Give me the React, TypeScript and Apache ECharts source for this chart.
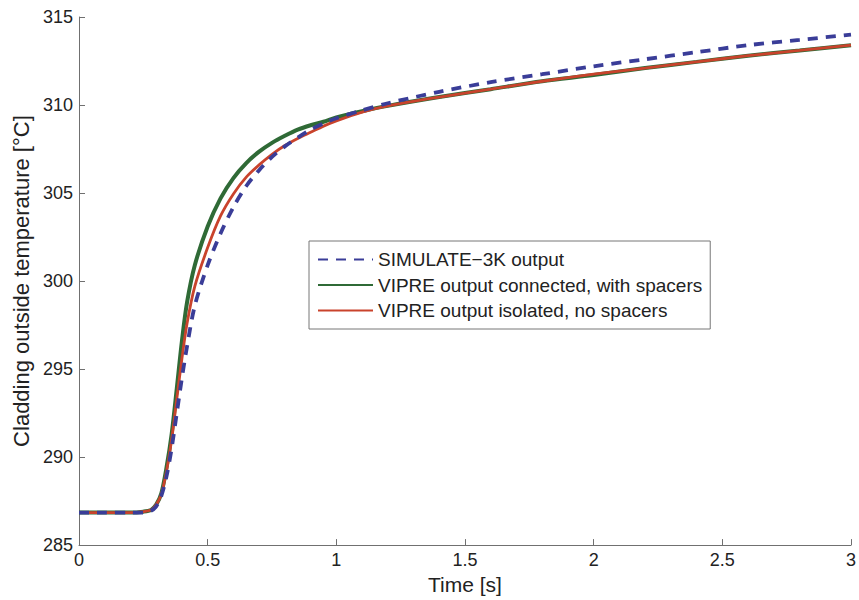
import React, { useEffect, useRef } from "react";
import * as echarts from "echarts";

const time = [0, 0.1, 0.2, 0.25, 0.28, 0.3, 0.32, 0.34, 0.36, 0.38, 0.4, 0.42, 0.45, 0.5, 0.55, 0.6, 0.65, 0.7, 0.75, 0.8, 0.85, 0.9, 0.95, 1.0, 1.1, 1.2, 1.4, 1.6, 1.8, 2.0, 2.2, 2.4, 2.6, 2.8, 3.0];

const simulate3k = [286.85, 286.85, 286.85, 286.85, 286.95, 287.2, 287.8, 288.9, 290.5, 292.5, 294.5, 296.3, 298.6, 300.9, 302.7, 304.2, 305.4, 306.3, 307.05, 307.65, 308.15, 308.6, 308.95, 309.25, 309.7, 310.1, 310.75, 311.3, 311.75, 312.2, 312.6, 313.0, 313.4, 313.7, 314.0];

const vipreConnected = [286.85, 286.85, 286.85, 286.9, 287.0, 287.3, 287.95, 289.4, 291.3, 293.9, 296.6, 298.8, 300.9, 303.1, 304.7, 305.85, 306.7, 307.35, 307.85, 308.25, 308.6, 308.85, 309.05, 309.3, 309.65, 309.95, 310.45, 310.9, 311.35, 311.7, 312.1, 312.45, 312.8, 313.1, 313.4];

const vipreIsolated = [286.85, 286.85, 286.85, 286.9, 287.0, 287.3, 287.9, 289.2, 291.0, 293.3, 295.6, 297.6, 299.7, 301.9, 303.7, 304.95, 305.9, 306.6, 307.2, 307.7, 308.1, 308.45, 308.8, 309.1, 309.6, 309.95, 310.45, 310.9, 311.35, 311.75, 312.1, 312.45, 312.8, 313.1, 313.4];

const seriesNames = [
  "SIMULATE\u22123K output",
  "VIPRE output connected, with spacers",
  "VIPRE output isolated, no spacers",
];

const FONT = "'Liberation Sans', Arial, Helvetica, sans-serif";

export default function App() {
  const ref = useRef<HTMLDivElement>(null);
  useEffect(() => {
    if (!ref.current) return;
    document.body.style.margin = "0";
    const chart = echarts.init(ref.current, null, { renderer: "svg" });
    const pair = (ys: number[]) => time.map((t, i) => [t, ys[i]]);
    const axisLine = { lineStyle: { color: "#707070", width: 1 } };
    chart.setOption({
      animation: false,
      backgroundColor: "#fff",
      textStyle: { fontFamily: FONT },
      grid: { left: 79, right: 7, top: 17, bottom: 51 },
      legend: {
        orient: "vertical",
        left: 309,
        top: 241,
        padding: [9, 8, 9, 8],
        itemWidth: 55,
        itemHeight: 20,
        itemGap: 6.5,
        borderColor: "#777",
        borderWidth: 1,
        borderRadius: 0,
        backgroundColor: "#fff",
        itemStyle: { opacity: 0 },
        textStyle: { fontFamily: FONT, fontSize: 19, color: "#222" },
        data: seriesNames,
      },
      xAxis: {
        type: "value",
        min: 0,
        max: 3,
        interval: 0.5,
        name: "Time [s]",
        nameLocation: "middle",
        nameGap: 23,
        nameTextStyle: { fontFamily: FONT, fontSize: 21, color: "#222" },
        axisLine: { ...axisLine, onZero: false },
        axisTick: { show: true, inside: true, length: 6, lineStyle: { color: "#707070" } },
        axisLabel: { fontFamily: FONT, fontSize: 18, color: "#222", margin: 6 },
        splitLine: { show: false },
      },
      yAxis: {
        type: "value",
        min: 285,
        max: 315,
        interval: 5,
        name: "Cladding outside temperature [\u00b0C]",
        nameLocation: "middle",
        nameGap: 46,
        nameTextStyle: { fontFamily: FONT, fontSize: 22, color: "#222" },
        axisLine: { show: true, ...axisLine },
        axisTick: { show: true, inside: true, length: 6, lineStyle: { color: "#707070" } },
        axisLabel: { fontFamily: FONT, fontSize: 18, color: "#222", margin: 6 },
        splitLine: { show: false },
      },
      series: [
        {
          name: seriesNames[1],
          type: "line",
          data: pair(vipreConnected),
          showSymbol: false,
          symbol: "none",
          smooth: 0.3,
          z: 2,
          lineStyle: { color: "#2f6a36", width: 4 },
          itemStyle: { color: "#2f6a36" },
        },
        {
          name: seriesNames[2],
          type: "line",
          data: pair(vipreIsolated),
          showSymbol: false,
          symbol: "none",
          smooth: 0.3,
          z: 3,
          lineStyle: { color: "#c9432c", width: 2.8 },
          itemStyle: { color: "#c9432c" },
        },
        {
          name: seriesNames[0],
          type: "line",
          data: pair(simulate3k),
          showSymbol: false,
          symbol: "none",
          smooth: 0.3,
          z: 4,
          lineStyle: { color: "#3a3d98", width: 3.8, type: [10, 8] },
          itemStyle: { color: "#3a3d98" },
        },
      ],
    });
    return () => chart.dispose();
  }, []);
  return <div ref={ref} style={{ width: 859, height: 600 }} />;
}
